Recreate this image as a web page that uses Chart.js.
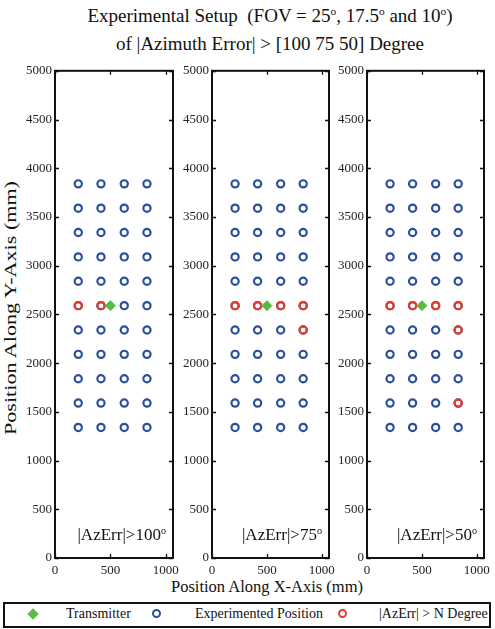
<!DOCTYPE html>
<html>
<head>
<meta charset="utf-8">
<script src="https://cdn.jsdelivr.net/npm/chart.js@4.4.0/dist/chart.umd.min.js"></script>
<style>
  body { margin: 0; background: #fff; font-family: "Liberation Serif", "DejaVu Serif", serif; color: #111; }
  #wrap { position: relative; width: 495px; height: 629px; overflow: hidden; }
  canvas { position: absolute; }
  .title { position: absolute; left: 0; width: 540px; text-align: center; font-size: 19px; line-height: 25px; top: 3px; }
  sup { font-size: 60%; vertical-align: 0; position: relative; top: -0.6em; }
  .ylab { position: absolute; left: 11px; top: 308px; transform: translate(-50%, -50%) rotate(-90deg) scaleX(1.3); font-size: 17px; white-space: nowrap; }
  .xlab { position: absolute; left: 267px; top: 577px; transform: translateX(-50%); font-size: 16.5px; white-space: nowrap; }
  .note { position: absolute; top: 525px; font-size: 17px; white-space: nowrap; text-align: right; }
  .legend { position: absolute; left: 3px; top: 602px; width: 484px; height: 22px; border: 2px solid #111; font-size: 14px; }
  .legend span { position: absolute; top: 2px; white-space: nowrap; }
  .mk { position: absolute; }
</style>
</head>
<body>
<div id="wrap">
  <div class="title">Experimental Setup&nbsp; (FOV = 25<sup>o</sup>, 17.5<sup>o</sup> and 10<sup>o</sup>)<br>of |Azimuth Error| &gt; [100 75 50] Degree</div>
  <div class="ylab">Position Along Y-Axis (mm)</div>
  <div class="xlab">Position Along X-Axis (mm)</div>
  <div class="legend" id="legend"></div>
</div>
<script>
// grid of tested positions (mm)
const colX = [210, 415, 625, 830];
const rowY = [1340, 1590, 1840, 2090, 2340, 2590, 2840, 3090, 3340, 3590, 3840];
const txX = [500];
const txY = [2590];
const thresholds = [100, 75, 50];
// positions with |AzErr| above threshold, per panel
const redX = [
    [210, 415],
    [210, 415, 625, 830, 830],
    [210, 415, 625, 830, 830, 830]
];
const redY = [
    [2590, 2590],
    [2590, 2590, 2590, 2590, 2340],
    [2590, 2590, 2590, 2590, 2340, 1590]
];
const xTicks = [0, 500, 1000];
const yTicks = [0, 500, 1000, 1500, 2000, 2500, 3000, 3500, 4000, 4500, 5000];

const blue = '#2b4f9f';
const red = '#e53d2c';
const green = '#5bba45';
const tickFont = { family: "'Liberation Serif', 'Times New Roman', serif", size: 13 };

const panels = [
    { left: 55, right: 173 },
    { left: 212, right: 329 },
    { left: 367, right: 484 }
];

const boxPlugin = {
    id: 'box',
    afterDraw(chart) {
        const ctx = chart.ctx;
        const a = chart.chartArea;
        const xs = chart.scales.x;
        const ys = chart.scales.y;
        ctx.save();
        ctx.strokeStyle = '#111';
        ctx.lineWidth = 1.3;
        ctx.beginPath();
        yTicks.forEach(v => {
            const py = Math.round(ys.getPixelForValue(v)) + 0.5;
            ctx.moveTo(a.left, py); ctx.lineTo(a.left + 4, py);
            ctx.moveTo(a.right, py); ctx.lineTo(a.right - 4, py);
        });
        xTicks.forEach(v => {
            const px = Math.round(xs.getPixelForValue(v)) + 0.5;
            ctx.moveTo(px, a.bottom); ctx.lineTo(px, a.bottom - 4);
            ctx.moveTo(px, a.top); ctx.lineTo(px, a.top + 4);
        });
        ctx.stroke();
        ctx.lineWidth = 2;
        ctx.strokeRect(a.left, a.top, a.right - a.left, a.bottom - a.top);
        ctx.restore();
    }
};

const wrap = document.getElementById('wrap');
const allPts = [];
rowY.forEach(y => colX.forEach(x => allPts.push({ x: x, y: y })));

panels.forEach((p, i) => {
    const canvas = document.createElement('canvas');
    const w = 40 + (p.right - p.left) + 14;
    const h = 523;
    canvas.width = w;
    canvas.height = h;
    canvas.style.left = (p.left - 40) + 'px';
    canvas.style.top = '60px';
    wrap.appendChild(canvas);

    new Chart(canvas.getContext('2d'), {
        type: 'scatter',
        data: {
            datasets: [{
                label: 'Transmitter',
                data: txX.map((x, k) => ({ x: x, y: txY[k] })),
                pointStyle: 'rectRot',
                pointRadius: 5,
                backgroundColor: green,
                borderColor: green,
                borderWidth: 1
            }, {
                label: '|AzErr| > N Degree',
                data: redX[i].map((x, k) => ({ x: x, y: redY[i][k] })),
                pointRadius: 3.6,
                backgroundColor: 'rgba(0,0,0,0)',
                borderColor: red,
                borderWidth: 2.2
            }, {
                label: 'Experimented Position',
                data: allPts,
                pointRadius: 3.6,
                backgroundColor: 'rgba(0,0,0,0)',
                borderColor: blue,
                borderWidth: 2.2
            }]
        },
        options: {
            responsive: false,
            animation: false,
            devicePixelRatio: 1,
            layout: { padding: { top: 9, right: 14, left: 0, bottom: 0 } },
            plugins: { legend: { display: false }, tooltip: { enabled: false } },
            scales: {
                x: {
                    type: 'linear',
                    min: 0,
                    max: 1065,
                    afterBuildTicks: s => { s.ticks = xTicks.map(v => ({ value: v })); },
                    afterFit: s => { s.height = 25; },
                    grid: { display: false, drawTicks: false },
                    border: { display: false },
                    ticks: {
                        padding: 5,
                        color: '#222',
                        font: tickFont,
                        callback: v => String(v)
                    }
                },
                y: {
                    type: 'linear',
                    min: 0,
                    max: 5000,
                    afterBuildTicks: s => { s.ticks = yTicks.map(v => ({ value: v })); },
                    afterFit: s => { s.width = 40; },
                    grid: { display: false, drawTicks: false },
                    border: { display: false },
                    ticks: {
                        padding: 3,
                        color: '#222',
                        font: tickFont,
                        callback: v => String(v)
                    }
                }
            }
        },
        plugins: [boxPlugin]
    });

    const note = document.createElement('div');
    note.className = 'note';
    note.style.right = (495 - p.right + 7) + 'px';
    note.innerHTML = '|AzErr|&gt;' + thresholds[i] + '<sup>o</sup>';
    wrap.appendChild(note);
});

// legend
const legend = document.getElementById('legend');
legend.innerHTML =
    '<div class="mk" style="left:24px;top:6px;width:8px;height:8px;background:' + green + ';transform:rotate(45deg)"></div>' +
    '<span style="left:61px">Transmitter</span>' +
    '<div class="mk" style="left:147px;top:5px;width:5px;height:5px;border:2px solid ' + blue + ';border-radius:50%"></div>' +
    '<span style="left:190px">Experimented Position</span>' +
    '<div class="mk" style="left:333px;top:5px;width:5px;height:5px;border:2px solid ' + red + ';border-radius:50%"></div>' +
    '<span style="left:374px">|AzErr| &gt; N Degree</span>';
</script>
</body>
</html>
